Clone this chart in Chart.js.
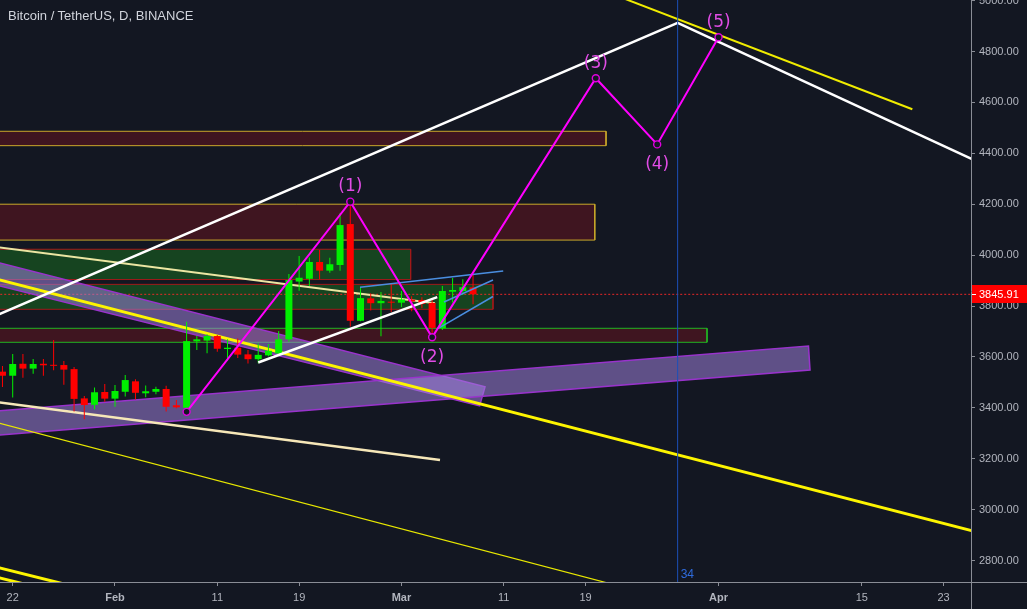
<!DOCTYPE html>
<html>
<head>
<meta charset="utf-8">
<title>Bitcoin / TetherUS, D, BINANCE</title>
<script src="https://cdn.jsdelivr.net/npm/chart.js@4.4.1/dist/chart.umd.min.js"></script>
<style>
  html, body { margin: 0; padding: 0; background: #131722; overflow: hidden; }
  #wrap { position: relative; width: 1027px; height: 609px; }
  #title { position: absolute; left: 8px; top: 8px; font: 13px 'Liberation Sans', Arial, sans-serif;
           line-height: 16px; color: #d1d4dc; white-space: nowrap; }
  canvas { display: block; }
</style>
</head>
<body>
<div id="wrap">
  <canvas id="c" width="1027" height="609"></canvas>
  <div id="title">Bitcoin / TetherUS, D, BINANCE</div>
</div>
<script>
// Daily candles, x = days counted from 1 Feb 2019
const candleDays = [-11, -10, -9, -8, -7, -6, -5, -4, -3, -2, -1, 0, 1, 2, 3, 4, 5, 6, 7, 8, 9, 10,
  11, 12, 13, 14, 15, 16, 17, 18, 19, 20, 21, 22, 23, 24, 25, 26, 27, 28, 29, 30, 31, 32, 33, 34, 35];
const opens = [3542, 3526, 3573, 3554, 3573, 3568, 3568, 3552, 3437, 3412, 3462, 3436, 3463, 3504, 3457, 3463,
  3474, 3410, 3400, 3661, 3664, 3682, 3631, 3636, 3610, 3591, 3606, 3614, 3669, 3896, 3907, 3973, 3939, 3961,
  4122, 3742, 3830, 3811, 3817, 3813, 3825, 3824, 3812, 3712, 3856, 3859, 3873];
const highs = [3564, 3611, 3611, 3592, 3592, 3666, 3584, 3560, 3446, 3480, 3494, 3490, 3529, 3512, 3488, 3483,
  3487, 3431, 3738, 3682, 3689, 3686, 3669, 3672, 3627, 3653, 3651, 3702, 3926, 3996, 3991, 4020, 3990, 4164,
  4210, 3873, 3850, 3855, 3886, 3859, 3838, 3834, 3831, 3879, 3910, 3905, 3924];
const lows = [3482, 3440, 3518, 3534, 3526, 3548, 3491, 3385, 3355, 3394, 3424, 3404, 3444, 3433, 3441, 3453,
  3385, 3398, 3384, 3627, 3614, 3620, 3585, 3596, 3574, 3575, 3603, 3611, 3660, 3860, 3879, 3905, 3931, 3939,
  3719, 3740, 3782, 3681, 3776, 3796, 3779, 3791, 3679, 3706, 3814, 3843, 3807];
const closes = [3526, 3572, 3554, 3572, 3567, 3565, 3550, 3435, 3411, 3461, 3436, 3466, 3509, 3459, 3465, 3474,
  3404, 3402, 3662, 3669, 3682, 3632, 3636, 3609, 3591, 3608, 3624, 3669, 3902, 3911, 3973, 3939, 3964, 4118,
  3742, 3831, 3811, 3820, 3813, 3826, 3818, 3808, 3714, 3859, 3863, 3874, 3845.91];

// Axis ticks
const xTickDays = [-10, 0, 10, 18, 28, 38, 46, 59, 73, 81];
const xTickLabels = ['22', 'Feb', '11', '19', 'Mar', '11', '19', 'Apr', '15', '23'];
const monthTickDays = [0, 28, 59];
const yTicks = [2800, 3000, 3200, 3400, 3600, 3800, 4000, 4200, 4400, 4600, 4800, 5000];

// Elliott wave count
const waveDays = [7, 23, 31, 47, 53, 59];
const wavePrices = [3384, 4210, 3677, 4695, 4435, 4856];
const waveLabels = ['', '(1)', '(2)', '(3)', '(4)', '(5)'];
const waveLabelBelow = [false, false, true, false, true, false];

// Time cycle marker
const cycleDay = 55;
const cycleLabel = '34';

// Zones (closed outlines: [day, price])
const zoneSupply1 = [[-13, 4486.5], [48.0, 4486.5], [48.0, 4430], [-13, 4430], [-13, 4486.5]];
const zoneSupply2 = [[-13, 4200], [46.9, 4200], [46.9, 4059], [-13, 4059], [-13, 4200]];
const zoneDemand1 = [[-13, 4023], [28.9, 4023], [28.9, 3904], [-13, 3904], [-13, 4023]];
const zoneDemand2 = [[-13, 3885], [36.95, 3885], [36.95, 3787], [-13, 3787], [-13, 3885]];
const zoneSupply3 = [[-13, 3712.4], [57.87, 3712.4], [57.87, 3657.4], [-13, 3657.4], [-13, 3712.4]];
const bandFalling = [[-12, 3976.8], [36.17, 3482.9], [35.64, 3407.5], [-12, 3886], [-12, 3976.8]];
const bandRising = [[-12, 3386.2], [67.79, 3642.4], [67.94, 3548.1], [-12, 3290.8], [-12, 3386.2]];

// Trend lines
const channelUpper = [[-12, 3755.6], [55, 4913], [84, 4373]];
const channelLower = [[14, 3578], [31.5, 3835]];
const trendCreamUpper = [[-12, 4033.8], [31.28, 3811]];
const trendCreamLower = [[-12, 3424.7], [31.77, 3195]];
const trendYellowMain = [[-12, 3910], [84, 2914.3]];
const trendYellowThin = [[-12, 3347], [50, 2692]];
const trendYellowLow1 = [[-12, 2778.4], [-4, 2697.8]];
const trendYellowLow2 = [[-12, 2739.1], [-9, 2708.8]];
const trendYellowTop = [[49, 5020], [77.94, 4573]];
const wedgeUpper = [[23.95, 3873.5], [37.95, 3937.5]];
const wedgeMid = [[32.16, 3815.7], [36.95, 3902.2]];
const wedgeLow = [[31.6, 3712.4], [36.95, 3837.3]];

// Visible range
const X_MIN = -11.241, X_MAX = 83.676;
const Y_MIN = 2715.5, Y_MAX = 5002.4;

const BG = '#131722';
const AXIS = '#8a8d96';
const LABEL = '#b2b5be';
const UP = '#00f000';
const DOWN = '#ff0000';
const FONT = "'Liberation Sans', Arial, sans-serif";

const lastPrice = closes[closes.length - 1];

const toXY = arr => arr.map(([x, y]) => ({ x, y }));

function lineSet(points, color, width, order, extra) {
  return Object.assign({
    type: 'line', data: toXY(points), borderColor: color, borderWidth: width,
    pointRadius: 0, pointHoverRadius: 0, tension: 0, fill: false, clip: 0, order
  }, extra || {});
}
function shapeSet(points, fillColor, strokeColor, width, order) {
  return lineSet(points, strokeColor, width, order, { fill: 'shape', backgroundColor: fillColor });
}

const candleColors = candleDays.map((d, i) => closes[i] >= opens[i] ? UP : DOWN);

const datasets = [
  // zones
  shapeSet(zoneSupply1, 'rgba(125,18,32,0.42)', '#c9a82a', 1, 100),
  shapeSet(zoneSupply2, 'rgba(125,18,32,0.42)', '#c9a82a', 1, 99),
  shapeSet(zoneDemand1, 'rgba(30,160,30,0.33)', '#a01a1a', 1, 98),
  shapeSet(zoneDemand2, 'rgba(30,160,30,0.33)', '#a01a1a', 1, 97),
  shapeSet(zoneSupply3, 'rgba(125,18,32,0.42)', '#22b522', 1, 96),
  // last price line
  lineSet([[-12, lastPrice], [84, lastPrice]], 'rgba(255,40,40,0.9)', 1, 94, { borderDash: [2, 2] }),
  // bands
  shapeSet(bandFalling, 'rgba(158,128,218,0.55)', '#9933cc', 1.5, 90),
  shapeSet(bandRising, 'rgba(158,128,218,0.55)', '#9933cc', 1.5, 89),
  // trend lines
  lineSet(trendCreamUpper, '#ece6a2', 2, 80),
  lineSet(trendCreamLower, '#f6e7b8', 2.5, 80),
  lineSet(trendYellowThin, '#e8e800', 1.2, 80),
  lineSet(trendYellowMain, '#fdf500', 3, 79),
  lineSet(trendYellowLow1, '#fdf500', 3, 79),
  lineSet(trendYellowLow2, '#fdf500', 3, 79),
  lineSet(trendYellowTop, '#f0ec00', 2, 79),
  // candles
  {
    type: 'bar', data: candleDays.map((d, i) => ({ x: d, y: [lows[i], highs[i]] })),
    backgroundColor: candleColors, borderWidth: 0, barThickness: 1, grouped: false,
    inflateAmount: 0, clip: 0, order: 71
  },
  {
    type: 'bar', data: candleDays.map((d, i) => ({ x: d, y: [opens[i], closes[i]] })),
    backgroundColor: candleColors, borderWidth: 0, barThickness: 7, grouped: false,
    inflateAmount: 0, minBarLength: 1, clip: 0, order: 70
  },
  // channel
  lineSet(channelUpper, '#ffffff', 2.5, 60),
  lineSet(channelLower, '#ffffff', 2.5, 60),
  // wedge
  lineSet(wedgeUpper, '#4a8ee0', 1.5, 55),
  lineSet(wedgeMid, '#4a8ee0', 1.5, 55),
  lineSet(wedgeLow, '#4a8ee0', 1.5, 55),
  // cycle marker
  lineSet([[cycleDay, Y_MIN - 50], [cycleDay, Y_MAX + 50]], '#1c4fb8', 1, 50),
  // wave count
  lineSet(waveDays.map((d, i) => [d, wavePrices[i]]), '#ff00ff', 2, 10, {
    pointRadius: 3.5, pointBorderColor: '#e000e0', pointBackgroundColor: BG, pointBorderWidth: 1.4
  })
];

const overlay = {
  id: 'overlay',
  beforeDraw(chart) {
    const { ctx, width, height } = chart;
    ctx.save();
    ctx.fillStyle = BG;
    ctx.fillRect(0, 0, width, height);
    ctx.restore();
  },
  afterDatasetsDraw(chart) {
    const { ctx, scales: { x, y }, chartArea } = chart;
    ctx.save();
    ctx.font = "17px 'DejaVu Sans', sans-serif";
    ctx.fillStyle = '#e14ce6';
    ctx.textAlign = 'center';
    ctx.textBaseline = 'middle';
    waveDays.forEach((d, i) => {
      if (!waveLabels[i]) return;
      const px = x.getPixelForValue(d);
      const py = y.getPixelForValue(wavePrices[i]);
      ctx.fillText(waveLabels[i], px, py + (waveLabelBelow[i] ? 20 : -15));
    });
    ctx.font = '12px ' + FONT;
    ctx.fillStyle = '#2f6bdc';
    ctx.textAlign = 'left';
    ctx.fillText(cycleLabel, x.getPixelForValue(cycleDay) + 3, chartArea.bottom - 7);
    ctx.restore();
  },
  afterDraw(chart) {
    const { ctx, scales: { y }, chartArea, width, height } = chart;
    ctx.save();
    // axis lines continue into the corner
    ctx.strokeStyle = AXIS;
    ctx.lineWidth = 1;
    ctx.beginPath();
    ctx.moveTo(chartArea.right + 0.5, chartArea.bottom);
    ctx.lineTo(chartArea.right + 0.5, height);
    ctx.moveTo(chartArea.right, chartArea.bottom + 0.5);
    ctx.lineTo(width, chartArea.bottom + 0.5);
    ctx.stroke();
    // last price tag
    const py = y.getPixelForValue(lastPrice);
    ctx.fillStyle = '#ff0000';
    ctx.fillRect(chartArea.right + 1, Math.round(py) - 9, width - chartArea.right - 1, 18);
    ctx.strokeStyle = '#ffffff';
    ctx.beginPath();
    ctx.moveTo(chartArea.right + 1, Math.round(py) + 0.5);
    ctx.lineTo(chartArea.right + 5, Math.round(py) + 0.5);
    ctx.stroke();
    ctx.fillStyle = '#ffffff';
    ctx.font = '11px ' + FONT;
    ctx.textAlign = 'left';
    ctx.textBaseline = 'middle';
    ctx.fillText(lastPrice.toFixed(2), chartArea.right + 8, Math.round(py) + 0.5);
    ctx.restore();
  }
};

new Chart(document.getElementById('c'), {
  type: 'line',
  data: { datasets },
  options: {
    responsive: false,
    animation: false,
    devicePixelRatio: 1,
    events: [],
    layout: { padding: 0, autoPadding: false },
    plugins: { legend: { display: false }, tooltip: { enabled: false } },
    scales: {
      x: {
        type: 'linear', position: 'bottom', min: X_MIN, max: X_MAX, offset: false,
        grid: { drawOnChartArea: false, drawTicks: true, tickLength: 4, color: AXIS, offset: false },
        border: { display: true, color: AXIS, width: 1 },
        ticks: {
          autoSkip: false, maxRotation: 0, padding: 5, color: LABEL,
          font: c => ({ family: FONT, size: 11,
            weight: (c.tick && monthTickDays.includes(c.tick.value)) ? 'bold' : 'normal' }),
          callback: v => { const i = xTickDays.indexOf(v); return i >= 0 ? xTickLabels[i] : ''; }
        },
        afterBuildTicks: s => { s.ticks = xTickDays.map(v => ({ value: v })); },
        afterFit: s => { s.height = 27; s.paddingLeft = 0; s.paddingRight = 0; }
      },
      y: {
        type: 'linear', position: 'right', min: Y_MIN, max: Y_MAX,
        grid: { drawOnChartArea: false, drawTicks: true, tickLength: 4, color: AXIS },
        border: { display: true, color: AXIS, width: 1 },
        ticks: {
          autoSkip: false, padding: 4, color: LABEL, font: { family: FONT, size: 11 },
          callback: v => Number(v).toFixed(2)
        },
        afterBuildTicks: s => { s.ticks = yTicks.map(v => ({ value: v })); },
        afterFit: s => { s.width = 56; s.paddingTop = 0; s.paddingBottom = 0; }
      }
    }
  },
  plugins: [overlay]
});
</script>
</body>
</html>
